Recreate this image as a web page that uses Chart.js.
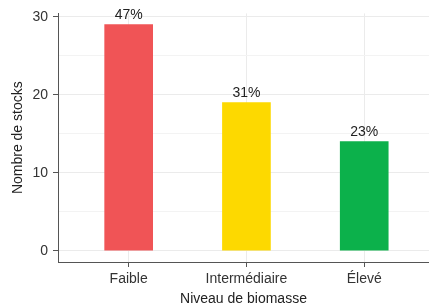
<!DOCTYPE html>
<html>
<head>
<meta charset="utf-8">
<script src="https://cdn.jsdelivr.net/npm/chart.js@4"></script>
<style>
  body { margin: 0; background: #fff; overflow: hidden; }
</style>
</head>
<body>
<canvas id="myChart" width="429" height="308"></canvas>
<script>
// data
var categories = ['Faible', 'Intermédiaire', 'Élevé'];
var stockCounts = [29, 19, 14];
var percentLabels = ['47%', '31%', '23%'];
var barColors = ['#f05456', '#fdd900', '#0cb14b'];
var yTicks = [0, 5, 10, 15, 20, 25, 30];

var FONT = "'Liberation Sans', Arial, sans-serif";

// text above each bar
var percentPlugin = {
    id: 'percentLabels',
    afterDatasetsDraw: function(chart) {
        var ctx = chart.ctx;
        var meta = chart.getDatasetMeta(0);
        ctx.save();
        ctx.font = '14px ' + FONT;
        ctx.fillStyle = '#222';
        ctx.textAlign = 'center';
        ctx.textBaseline = 'alphabetic';
        meta.data.forEach(function(bar, i) {
            ctx.fillText(percentLabels[i], bar.x, bar.y - 6);
        });
        ctx.restore();
    }
};

var points = stockCounts.map(function(v, i) {
    return { x: i + 1, y: v };
});

var ctx = document.getElementById('myChart').getContext('2d');
var chart = new Chart(ctx, {
    type: 'bar',
    data: {
        datasets: [{
            data: points,
            backgroundColor: barColors,
            borderWidth: 0,
            barThickness: 48
        }]
    },
    options: {
        responsive: false,
        animation: false,
        layout: { padding: { top: 11, right: 0, left: 0, bottom: 0 } },
        plugins: {
            legend: { display: false },
            tooltip: { enabled: false }
        },
        scales: {
            x: {
                type: 'linear',
                min: 0.4,
                max: 3.55,
                offset: false,
                afterBuildTicks: function(scale) {
                    scale.ticks = categories.map(function(c, i) { return { value: i + 1 }; });
                },
                afterFit: function(scale) { scale.height = 46; },
                ticks: {
                    autoSkip: false,
                    maxRotation: 0,
                    padding: 4,
                    color: '#333',
                    font: { family: FONT, size: 14 },
                    callback: function(value) { return categories[value - 1]; }
                },
                grid: {
                    offset: false,
                    color: '#ebebeb',
                    tickColor: '#555',
                    tickLength: 5
                },
                border: { color: '#555' },
                title: {
                    display: true,
                    text: 'Niveau de biomasse',
                    color: '#222',
                    font: { family: FONT, size: 14 },
                    padding: { top: 0, bottom: 0 }
                }
            },
            y: {
                min: -1.45,
                max: 30.45,
                afterBuildTicks: function(scale) {
                    scale.ticks = yTicks.map(function(v) { return { value: v }; });
                },
                afterFit: function(scale) { scale.width = 58; },
                ticks: {
                    padding: 5,
                    color: '#333',
                    font: { family: FONT, size: 14 },
                    callback: function(value) { return value % 10 === 0 ? value : ''; }
                },
                grid: {
                    color: function(c) { return c.tick && c.tick.value % 10 === 0 ? '#ebebeb' : '#f3f3f3'; },
                    tickColor: function(c) { return c.tick && c.tick.value % 10 === 0 ? '#555' : 'rgba(0,0,0,0)'; },
                    tickLength: 5
                },
                border: { color: '#555' },
                title: {
                    display: true,
                    text: 'Nombre de stocks',
                    color: '#222',
                    font: { family: FONT, size: 14 },
                    padding: { top: 10, bottom: 0 }
                }
            }
        }
    },
    plugins: [percentPlugin]
});
</script>
</body>
</html>
